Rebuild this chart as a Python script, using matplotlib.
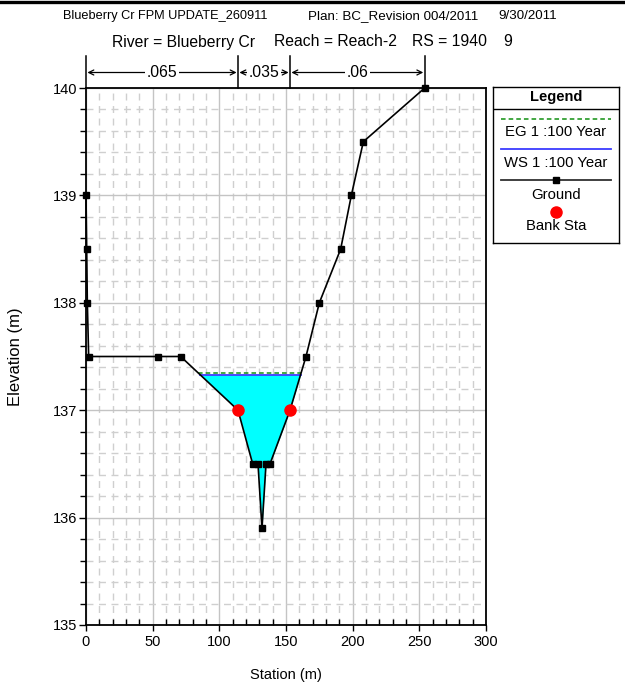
import numpy as np
import matplotlib
matplotlib.use("Agg")
import matplotlib.pyplot as plt
from matplotlib.lines import Line2D
from matplotlib.ticker import MultipleLocator
import matplotlib.transforms as mtransforms

plt.rcParams['font.family'] = ['Liberation Sans', 'DejaVu Sans']

# ---------------- data ----------------
station = [0, 0.5, 1, 2, 54, 71, 114, 125, 129, 132, 135, 138, 153, 165, 175, 191, 199, 208, 254]
elev = [139.0, 138.5, 138.0, 137.5, 137.5, 137.5, 137.0, 136.5, 136.5, 135.9, 136.5, 136.5,
        137.0, 137.5, 138.0, 138.5, 139.0, 139.5, 140.0]
bank_sta = [114, 153]
bank_elev = [137.0, 137.0]
ws_elev = 137.33
eg_elev = 137.345
n_breaks = [0, 114, 153, 254]
n_values = ['.065', '.035', '.06']
x_ticks = [0, 50, 100, 150, 200, 250, 300]
y_ticks = [135, 136, 137, 138, 139, 140]

W, H = 625, 682
fig = plt.figure(figsize=(W / 100, H / 100), dpi=100)

def fx(px):
    return px / W

def fy(py):
    return 1 - py / H

ax = fig.add_axes([fx(86), fy(625), (486 - 86) / W, (625 - 88) / H])
ax.set_xlim(0, 300)
ax.set_ylim(135, 140)

# grid
ax.xaxis.set_minor_locator(MultipleLocator(10))
ax.yaxis.set_minor_locator(MultipleLocator(0.2))
ax.set_xticks(x_ticks)
ax.set_yticks(y_ticks)
ax.grid(which='major', color='#c4c4c4', lw=1.0, ls='-', zorder=0)
ax.grid(which='minor', color='#cfcfcf', lw=1.0, ls=(0, (5, 4)), zorder=0)
ax.set_axisbelow(True)

ax.tick_params(axis='x', which='major', direction='out', length=4, width=1, labelsize=10.5, pad=3)
ax.tick_params(axis='x', which='minor', direction='in', length=4, width=1)
ax.tick_params(axis='y', which='major', direction='out', length=5, width=1, labelsize=10.5, pad=1)
ax.tick_params(axis='y', which='minor', direction='out', length=4, width=1)
for s in ax.spines.values():
    s.set_linewidth(1.3)
    s.set_color('black')

# water fill
xd = np.union1d(np.linspace(0, 254, 4000), station)
gd = np.interp(xd, station, elev)
ax.fill_between(xd, gd, ws_elev, where=gd < ws_elev, interpolate=True,
                color='#00ffff', lw=0, zorder=2)

def crossings(level):
    xs = []
    for i in range(len(station) - 1):
        y0, y1 = elev[i], elev[i + 1]
        if (y0 - level) * (y1 - level) < 0:
            t = (level - y0) / (y1 - y0)
            xs.append(station[i] + t * (station[i + 1] - station[i]))
    return xs

ws_x = crossings(ws_elev)
eg_x = crossings(eg_elev)
ax.plot([ws_x[0], ws_x[-1]], [ws_elev, ws_elev], color='#3c3cff', lw=1.3, zorder=3)
ax.plot([eg_x[0], eg_x[-1]], [eg_elev, eg_elev], color='#109010', lw=1.1,
        ls=(0, (3, 2)), zorder=3)

# ground
ax.plot(station, elev, color='black', lw=1.2, marker='s', ms=5, mfc='black',
        mec='black', zorder=4, clip_on=False)
# bank stations
ax.plot(bank_sta, bank_elev, ls='none', marker='o', ms=8, mfc='#ff0000',
        mec='#ff0000', zorder=5)

ax.set_xlabel('Station (m)', fontsize=10.5, labelpad=14)
ax.set_ylabel('Elevation (m)', fontsize=12, labelpad=22)

# Manning's n annotations
trans = mtransforms.blended_transform_factory(ax.transData, ax.transAxes)
top_v = 1 + (88 - 56) / 537
arr_y = 1 + (88 - 72.5) / 537
for xb in n_breaks:
    ax.add_line(Line2D([xb, xb], [1, top_v], transform=trans, color='black',
                       lw=1.1, clip_on=False))
for i, lab in enumerate(n_values):
    x0, x1 = n_breaks[i], n_breaks[i + 1]
    ax.annotate('', xy=(x0, arr_y), xytext=(x1, arr_y), xycoords=trans,
                textcoords=trans,
                arrowprops=dict(arrowstyle='<->', color='black', lw=0.9,
                                shrinkA=1, shrinkB=1, mutation_scale=9),
                annotation_clip=False)
    ax.text((x0 + x1) / 2, arr_y, lab, transform=trans, ha='center', va='center',
            fontsize=11.3, clip_on=False,
            bbox=dict(boxstyle='square,pad=0.12', fc='white', ec='none'), zorder=6)

# header
fig.add_artist(Line2D([0, 1], [fy(1.5), fy(1.5)], color='black', lw=2.4,
                      transform=fig.transFigure))
fig.text(fx(63), fy(16), 'Blueberry Cr FPM UPDATE_260911', fontsize=9.2,
         va='center', ha='left')
fig.text(fx(308), fy(16), 'Plan: BC_Revision 004/2011', fontsize=9.6,
         va='center', ha='left')
fig.text(fx(557), fy(16), '9/30/2011', fontsize=9.6, va='center', ha='right')
fig.text(fx(112), fy(42), 'River = Blueberry Cr', fontsize=11.3, va='center', ha='left')
fig.text(fx(274), fy(42), 'Reach = Reach-2', fontsize=11.3, va='center', ha='left')
fig.text(fx(412), fy(42), 'RS = 1940', fontsize=11.3, va='center', ha='left')
fig.text(fx(503), fy(42), '9', fontsize=11.3, va='center', ha='left')

# legend box
lx0, ly0, lx1, ly1 = 493, 87, 619, 243
lax = fig.add_axes([fx(lx0), fy(ly1), (lx1 - lx0) / W, (ly1 - ly0) / H])
lax.set_xlim(0, lx1 - lx0)
lax.set_ylim(ly1 - ly0, 0)
lax.set_xticks([])
lax.set_yticks([])
for s in lax.spines.values():
    s.set_linewidth(1.0)
    s.set_color('black')
cx = (lx1 - lx0) / 2
lax.text(cx, 10, 'Legend', ha='center', va='center', fontsize=10.5, fontweight='bold')
lax.plot([0, lx1 - lx0], [22, 22], color='black', lw=1.0)
lax.plot([8, 118], [32, 32], color='#109010', lw=1.1, ls=(0, (3, 2)))
lax.text(cx, 45, 'EG 1 :100 Year', ha='center', va='center', fontsize=10.7)
lax.plot([8, 118], [62, 62], color='#3c3cff', lw=1.3)
lax.text(cx, 76, 'WS 1 :100 Year', ha='center', va='center', fontsize=10.7)
lax.plot([8, 118], [93, 93], color='#303030', lw=1.3)
lax.plot([cx], [93], marker='s', ms=5, color='black', ls='none')
lax.text(cx, 108, 'Ground', ha='center', va='center', fontsize=10.7)
lax.plot([cx], [124.5], marker='o', ms=8, color='#ff0000', ls='none')
lax.text(cx, 139, 'Bank Sta', ha='center', va='center', fontsize=10.7)

fig.savefig('out.png', dpi=100)
